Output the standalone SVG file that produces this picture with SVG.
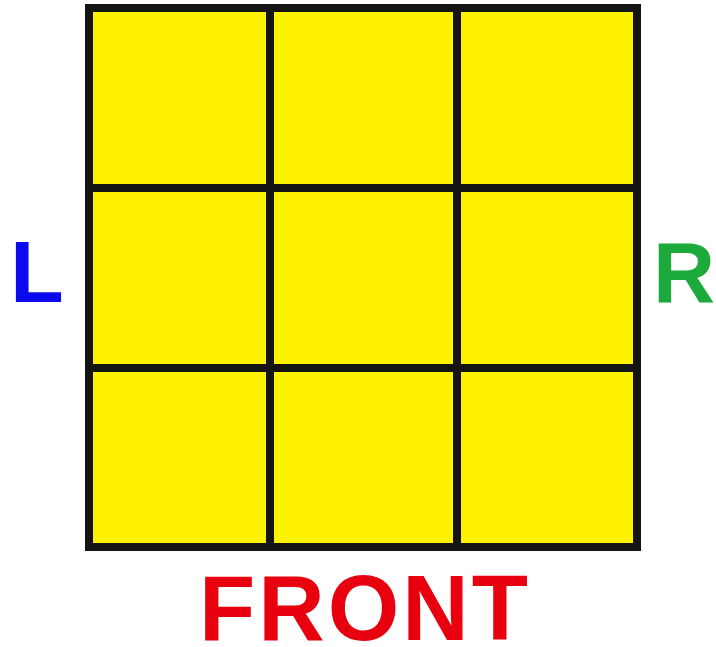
<svg xmlns="http://www.w3.org/2000/svg" width="716" height="647" viewBox="0 0 716 647">
<style>
.cell{fill:#FFF200;stroke:#141414;stroke-width:8}
.lbl{font-family:"Liberation Sans",Arial,sans-serif;font-weight:bold;text-anchor:middle}
</style>
<rect width="716" height="647" fill="#ffffff"/>
<g id="face">
<rect class="cell" x="89" y="8" width="181" height="180"/>
<rect class="cell" x="270" y="8" width="187" height="180"/>
<rect class="cell" x="457" y="8" width="180" height="180"/>
<rect class="cell" x="89" y="188" width="181" height="180"/>
<rect class="cell" x="270" y="188" width="187" height="180"/>
<rect class="cell" x="457" y="188" width="180" height="180"/>
<rect class="cell" x="89" y="368" width="181" height="179"/>
<rect class="cell" x="270" y="368" width="187" height="179"/>
<rect class="cell" x="457" y="368" width="180" height="179"/>
</g>
<g id="labels">
<text id="L" class="lbl" x="37" y="302" font-size="88" fill="#0A0AF0">L</text>
<text id="R" class="lbl" x="684" y="302" font-size="86" fill="#1CAA3C">R</text>
<text id="FRONT" class="lbl" x="365" y="640" font-size="92" letter-spacing="3" fill="#E8000E">FRONT</text>
</g>
</svg>
